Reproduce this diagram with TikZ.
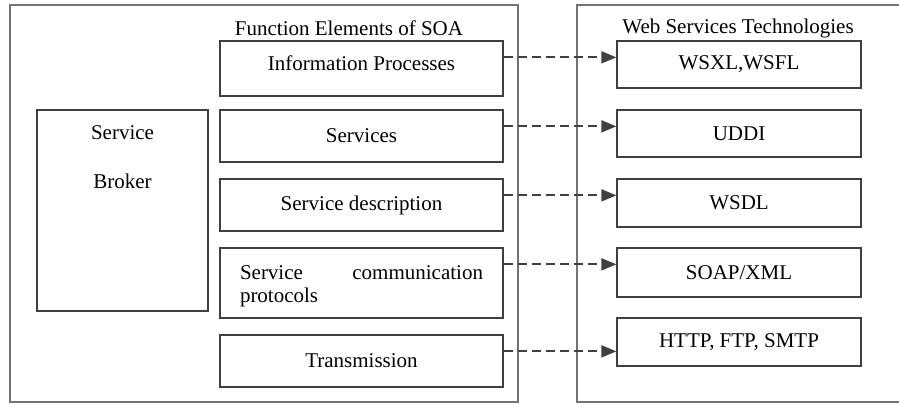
\documentclass[tikz,border=0pt]{standalone}
\usepackage{fontspec}
\setmainfont{Liberation Serif}
\usetikzlibrary{arrows.meta,calc}

\begin{document}
\begin{tikzpicture}[
    x=0.5pt, y=-0.5pt,
    every node/.style={font=\fontsize{10.5}{13}\selectfont, inner sep=0pt},
    frame/.style={draw=black!55, line width=0.7pt},
    elem/.style={draw=black!75, line width=0.65pt, minimum width=141.5pt, align=center},
    tech/.style={draw=black!75, line width=0.65pt, minimum width=122pt, align=center},
    flow/.style={draw=black!75, line width=0.9pt, dash pattern=on 4.5pt off 2.5pt, -{Triangle[length=7.5pt,width=6pt]}}
    ]
    \useasboundingbox (0,0) rectangle (899,404);
    % frames
    \node[frame, minimum width=254pt, minimum height=198.5pt] (soa) at (264,203.5) {};
    \draw[frame] (899,5) -- (577,5) -- (577,402) -- (899,402);
    \node (soatitle) at (349,28) {Function Elements of SOA};
    \node (wstitle) at (738,28) {Web Services Technologies};
    % broker
    \node[elem, minimum width=85.5pt, minimum height=100.5pt] (broker) at (122.5,210.5) {};
    \node[anchor=north, align=center] (brokertxt) at ($(broker.north)+(0,16)$) {Service\\[11.5pt]Broker};
    % function elements
    \node[elem, minimum height=27.5pt, text depth=5pt] (ip) at (361.5,68.5) {Information Processes};
    \node[elem, minimum height=26pt] (svc) at (361.5,136) {Services};
    \node[elem, minimum height=26pt] (desc) at (361.5,205) {Service description};
    \node[elem, minimum height=35pt, text width=121.5pt, inner xsep=10pt, align=justify,
      text height=10.5pt, font=\fontsize{10.5}{11.5}\selectfont] (comm) at (361.5,283) {Service communication \mbox{protocols}};
    \node[elem, minimum height=26pt] (trans) at (361.5,361) {Transmission};
    % technologies
    \node[tech, minimum height=23.5pt] (wsxl) at (739,64.5) {WSXL,WSFL};
    \node[tech, minimum height=23.5pt] (uddi) at (739,133.5) {UDDI};
    \node[tech, minimum height=24pt] (wsdl) at (739,203) {WSDL};
    \node[tech, minimum height=24.5pt] (soap) at (739,272.5) {SOAP/XML};
    \node[tech, minimum height=24pt] (http) at (739,342) {HTTP, FTP, SMTP};
    \foreach \src/\dst in {ip/wsxl, svc/uddi, desc/wsdl, comm/soap, trans/http} {
      \coordinate (from) at ($(\src.north east)+(0,17)$);
      \draw[flow] (from) -- (from -| \dst.west);
    }
  \end{tikzpicture}
\end{document}
